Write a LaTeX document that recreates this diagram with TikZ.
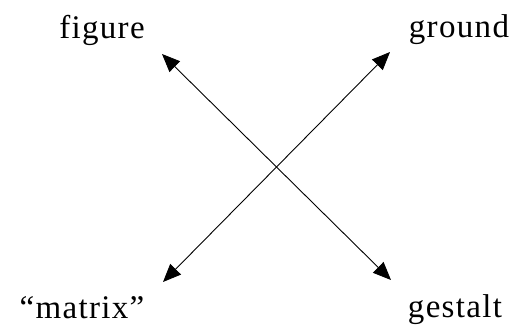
\documentclass[tikz,border=0pt]{standalone}
\usepackage{fontspec}
\setmainfont[LetterSpace=4]{Liberation Serif}
\usetikzlibrary{arrows.meta}
\begin{document}
\begin{tikzpicture}[x=1pt,y=-1pt,
  lbl/.style={anchor=base,inner sep=0pt,font=\fontsize{33}{36}\selectfont},
  dbl/.style={line width=0.9pt,{Triangle[length=18pt,width=15pt]}-{Triangle[length=18pt,width=15pt]}}]
\useasboundingbox (0,0) rectangle (519,324);
\node[lbl] (fig) at (102,38) {figure};
\node[lbl] (gro) at (459,37) {ground};
\node[lbl] (mat) at (82,318) {“matrix”};
\node[lbl] (ges) at (455,317) {gestalt};
\coordinate (a1) at (162,54);
\coordinate (a2) at (391,280);
\coordinate (b1) at (163,282);
\coordinate (b2) at (390,52);
\draw[dbl] (a1) -- (a2);
\draw[dbl] (b1) -- (b2);
\end{tikzpicture}
\end{document}
